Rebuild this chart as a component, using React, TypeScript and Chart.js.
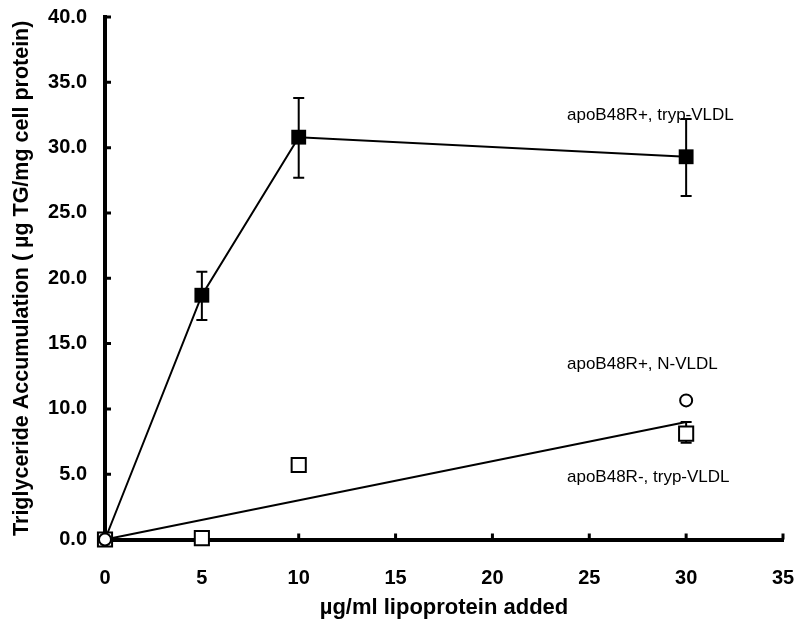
import React, { useEffect, useRef } from "react";
import { Chart, registerables } from "chart.js";

Chart.register(...registerables);

// Filled squares: apoB48R+, tryp-VLDL
const trypPlusX = [0, 5, 10, 30];
const trypPlusY = [0, 18.7, 30.8, 29.3];
const trypPlusLow = [0, 16.8, 27.7, 26.3];
const trypPlusHigh = [0, 20.5, 33.8, 32.2];

// Open squares: apoB48R-, tryp-VLDL
const trypMinusX = [0, 5, 10, 30];
const trypMinusY = [0, 0.1, 5.7, 8.1];
const trypMinusLow = [0, 0.1, 5.7, 7.4];
const trypMinusHigh = [0, 0.1, 5.7, 9.0];

// Open circles: apoB48R+, N-VLDL
const nVldlX = [0, 30];
const nVldlY = [0, 10.65];

// Straight line drawn from the origin
const fitX = [0, 30];
const fitY = [0, 9.0];

const xTicks = [0, 5, 10, 15, 20, 25, 30, 35];
const yTicks = [0, 5, 10, 15, 20, 25, 30, 35, 40];

const seriesLabels = ["apoB48R+, tryp-VLDL", "apoB48R+, N-VLDL", "apoB48R-, tryp-VLDL"];
const labelAnchorX = [23.85, 23.85, 23.85];
const labelAnchorY = [32.5, 13.4, 4.75];

const FONT = "'Liberation Sans', Arial, sans-serif";

const pts = (xs: number[], ys: number[]) => xs.map((x, i) => ({ x, y: ys[i] }));

const overlayPlugin = {
  id: "overlay",
  beforeDatasetsDraw(chart: any) {
    const ctx = chart.ctx;
    const xs = chart.scales.x;
    const ys = chart.scales.y;
    const area = chart.chartArea;
    ctx.save();
    ctx.strokeStyle = "#000";
    ctx.lineWidth = 3;
    ctx.beginPath();
    yTicks.forEach((v) => {
      const py = ys.getPixelForValue(v);
      ctx.moveTo(area.left, py);
      ctx.lineTo(area.left + 6, py);
    });
    xTicks.forEach((v) => {
      const px = xs.getPixelForValue(v);
      ctx.moveTo(px, area.bottom);
      ctx.lineTo(px, area.bottom - 6);
    });
    ctx.stroke();

    ctx.lineWidth = 2;
    const drawErr = (X: number[], lo: number[], hi: number[]) => {
      X.forEach((xv, i) => {
        if (hi[i] - lo[i] <= 0) return;
        const px = xs.getPixelForValue(xv);
        const p1 = ys.getPixelForValue(lo[i]);
        const p2 = ys.getPixelForValue(hi[i]);
        ctx.beginPath();
        ctx.moveTo(px, p1);
        ctx.lineTo(px, p2);
        ctx.moveTo(px - 5.5, p1);
        ctx.lineTo(px + 5.5, p1);
        ctx.moveTo(px - 5.5, p2);
        ctx.lineTo(px + 5.5, p2);
        ctx.stroke();
      });
    };
    drawErr(trypPlusX, trypPlusLow, trypPlusHigh);
    drawErr(trypMinusX, trypMinusLow, trypMinusHigh);
    ctx.restore();
  },
  afterDatasetsDraw(chart: any) {
    const ctx = chart.ctx;
    const xs = chart.scales.x;
    const ys = chart.scales.y;
    ctx.save();
    ctx.fillStyle = "#000";
    ctx.font = `17px ${FONT}`;
    ctx.textAlign = "left";
    ctx.textBaseline = "middle";
    seriesLabels.forEach((t, i) => {
      ctx.fillText(t, xs.getPixelForValue(labelAnchorX[i]), ys.getPixelForValue(labelAnchorY[i]));
    });
    ctx.restore();
  },
};

export default function App() {
  const ref = useRef<HTMLCanvasElement>(null);
  useEffect(() => {
    document.body.style.margin = "0";
    const canvas = ref.current!;
    const chart = new Chart(canvas, {
      type: "scatter",
      data: {
        datasets: [
          {
            label: "fit",
            data: pts(fitX, fitY),
            showLine: true,
            borderColor: "#000",
            borderWidth: 2,
            pointRadius: 0,
            clip: false,
            order: 4,
          },
          {
            label: seriesLabels[0],
            data: pts(trypPlusX, trypPlusY),
            showLine: true,
            borderColor: "#000",
            borderWidth: 2,
            pointStyle: "rect",
            pointRadius: 10.5,
            pointBackgroundColor: "#000",
            pointBorderColor: "#000",
            pointBorderWidth: 0,
            clip: false,
            order: 3,
          },
          {
            label: seriesLabels[2],
            data: pts(trypMinusX, trypMinusY),
            showLine: false,
            pointStyle: "rect",
            pointRadius: 10,
            pointBackgroundColor: "#fff",
            pointBorderColor: "#000",
            pointBorderWidth: 2,
            clip: false,
            order: 2,
          },
          {
            label: seriesLabels[1],
            data: pts(nVldlX, nVldlY),
            showLine: false,
            pointStyle: "circle",
            pointRadius: 6,
            pointBackgroundColor: "#fff",
            pointBorderColor: "#000",
            pointBorderWidth: 2,
            clip: false,
            order: 1,
          },
        ],
      },
      options: {
        animation: false,
        responsive: false,
        devicePixelRatio: 1,
        layout: { autoPadding: false, padding: { top: 17, right: 12, left: 0, bottom: 0 } },
        plugins: { legend: { display: false }, tooltip: { enabled: false } },
        scales: {
          x: {
            type: "linear",
            min: 0,
            max: 35,
            afterBuildTicks: (s: any) => {
              s.ticks = xTicks.map((v) => ({ value: v }));
            },
            afterFit: (s: any) => {
              s.height = 90.5;
            },
            grid: { display: false, drawTicks: true, tickLength: 27 },
            border: { display: true, color: "#000", width: 4 },
            ticks: {
              color: "#000",
              padding: 0,
              font: { family: FONT, size: 20, weight: "bold" },
              callback: (v: any) => String(v),
            },
            title: {
              display: true,
              text: "µg/ml lipoprotein added",
              color: "#000",
              font: { family: FONT, size: 22, weight: "bold" },
              padding: { top: 0, bottom: 9 },
            },
          },
          y: {
            type: "linear",
            min: 0,
            max: 40,
            afterBuildTicks: (s: any) => {
              s.ticks = yTicks.map((v) => ({ value: v }));
            },
            afterFit: (s: any) => {
              s.width = 105;
            },
            grid: { display: false, drawTicks: true, tickLength: 18 },
            border: { display: true, color: "#000", width: 4 },
            ticks: {
              color: "#000",
              padding: 0,
              font: { family: FONT, size: 20, weight: "bold" },
              callback: (v: any) => Number(v).toFixed(1),
            },
            title: {
              display: true,
              text: "Triglyceride Accumulation ( µg TG/mg cell protein)",
              color: "#000",
              font: { family: FONT, size: 21.5, weight: "bold" },
              padding: { top: 9, bottom: 0 },
            },
          },
        },
      },
      plugins: [overlayPlugin],
    } as any);
    return () => chart.destroy();
  }, []);
  return <canvas ref={ref} width={795} height={630} style={{ display: "block" }} />;
}
